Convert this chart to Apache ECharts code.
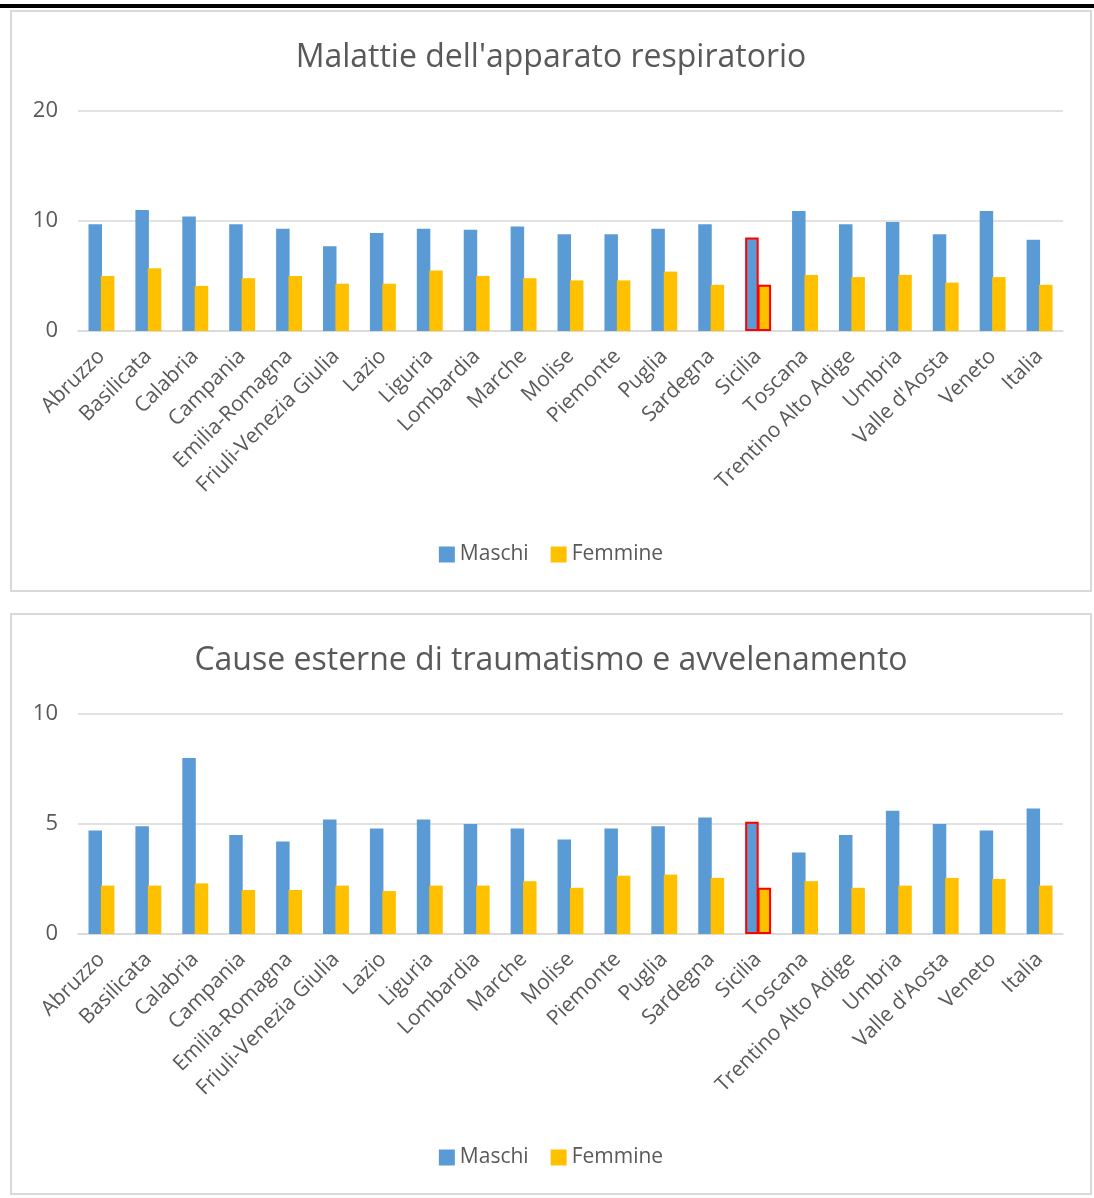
<!DOCTYPE html>
<html lang="it">
<head>
<meta charset="utf-8">
<title>Mortalità per causa e sesso</title>
<script src="https://cdn.jsdelivr.net/npm/echarts@6/dist/echarts.min.js"></script>
<style>
  html, body { margin: 0; padding: 0; background: #fff; }
  body { position: relative; width: 1094px; height: 1198px; overflow: hidden; }
  .rule { position: absolute; left: 0; top: 4px; width: 1094px; height: 4px; background: #000; }
  .panel { position: absolute; left: 10px; width: 1078px; height: 578px; border: 2px solid #d9d9d9; background: #fff; }
  #p1 { top: 10px; }
  #p2 { top: 613px; }
</style>
</head>
<body>
<div class="rule"></div>
<div class="panel" id="p1"></div>
<div class="panel" id="p2"></div>
<script>
// Regioni (e totale nazionale)
const regioni = ['Abruzzo', 'Basilicata', 'Calabria', 'Campania', 'Emilia-Romagna',
  'Friuli-Venezia Giulia', 'Lazio', 'Liguria', 'Lombardia', 'Marche', 'Molise',
  'Piemonte', 'Puglia', 'Sardegna', 'Sicilia', 'Toscana', 'Trentino Alto Adige',
  'Umbria', "Valle d'Aosta", 'Veneto', 'Italia'];

// Regione evidenziata
const evidenziata = 'Sicilia';

// Malattie dell'apparato respiratorio
const respiratorioMaschi = [9.7, 11.0, 10.4, 9.7, 9.3, 7.7, 8.9, 9.3, 9.2, 9.5, 8.8,
  8.8, 9.3, 9.7, 8.5, 10.9, 9.7, 9.9, 8.8, 10.9, 8.3];
const respiratorioFemmine = [5.0, 5.7, 4.1, 4.8, 5.0, 4.3, 4.3, 5.5, 5.0, 4.8, 4.6,
  4.6, 5.4, 4.2, 4.2, 5.1, 4.9, 5.1, 4.4, 4.9, 4.2];
const respiratorioTicks = [0, 10, 20];

// Cause esterne di traumatismo e avvelenamento
const traumiMaschi = [4.7, 4.9, 8.0, 4.5, 4.2, 5.2, 4.8, 5.2, 5.0, 4.8, 4.3,
  4.8, 4.9, 5.3, 5.1, 3.7, 4.5, 5.6, 5.0, 4.7, 5.7];
const traumiFemmine = [2.2, 2.2, 2.3, 2.0, 2.0, 2.2, 1.95, 2.2, 2.2, 2.4, 2.1,
  2.65, 2.7, 2.55, 2.1, 2.4, 2.1, 2.2, 2.55, 2.5, 2.2];
const traumiTicks = [0, 5, 10];

const BLU = '#5b9bd5';
const GIALLO = '#ffc000';
const TESTO = '#595959';
const GRIGLIA = '#d9d9d9';
const FONT = '"Open Sans", "Noto Sans", sans-serif';

function serie(nome, valori, colore) {
  return {
    name: nome,
    type: 'bar',
    barWidth: 13.5,
    barGap: '-8%',
    itemStyle: { color: colore },
    data: valori.map((v, i) => regioni[i] === evidenziata
      ? { value: v, itemStyle: { borderColor: '#ff0000', borderWidth: 2 } }
      : v)
  };
}

function grafico(el, titolo, maschi, femmine, ticks) {
  const chart = echarts.init(el, null, { renderer: 'canvas' });
  chart.setOption({
    animation: false,
    textStyle: { fontFamily: FONT },
    title: {
      text: titolo,
      left: 'center',
      top: 25,
      textStyle: { color: TESTO, fontSize: 32, fontWeight: 'normal', fontFamily: FONT }
    },
    legend: {
      data: ['Maschi', 'Femmine'],
      left: 'center',
      top: 527,
      icon: 'rect',
      itemWidth: 16,
      itemHeight: 16,
      itemGap: 22,
      textStyle: { color: TESTO, fontSize: 21, fontFamily: FONT }
    },
    grid: { left: 66, width: 985, top: 99, height: 220, containLabel: false },
    xAxis: {
      type: 'category',
      data: regioni,
      axisLine: { lineStyle: { color: GRIGLIA, width: 1.5 } },
      axisTick: { show: false },
      axisLabel: {
        interval: 0,
        rotate: 45,
        margin: 22,
        color: TESTO,
        fontSize: 21,
        fontFamily: FONT
      }
    },
    yAxis: {
      type: 'value',
      min: ticks[0],
      max: ticks[ticks.length - 1],
      interval: ticks[1] - ticks[0],
      axisLine: { show: false },
      axisTick: { show: false },
      splitLine: { lineStyle: { color: GRIGLIA, width: 1.5 } },
      axisLabel: { color: TESTO, fontSize: 22, margin: 20, fontFamily: FONT }
    },
    series: [serie('Maschi', maschi, BLU), serie('Femmine', femmine, GIALLO)]
  });
  return chart;
}

grafico(document.getElementById('p1'), "Malattie dell'apparato respiratorio",
  respiratorioMaschi, respiratorioFemmine, respiratorioTicks);
grafico(document.getElementById('p2'), 'Cause esterne di traumatismo e avvelenamento',
  traumiMaschi, traumiFemmine, traumiTicks);
</script>
</body>
</html>
